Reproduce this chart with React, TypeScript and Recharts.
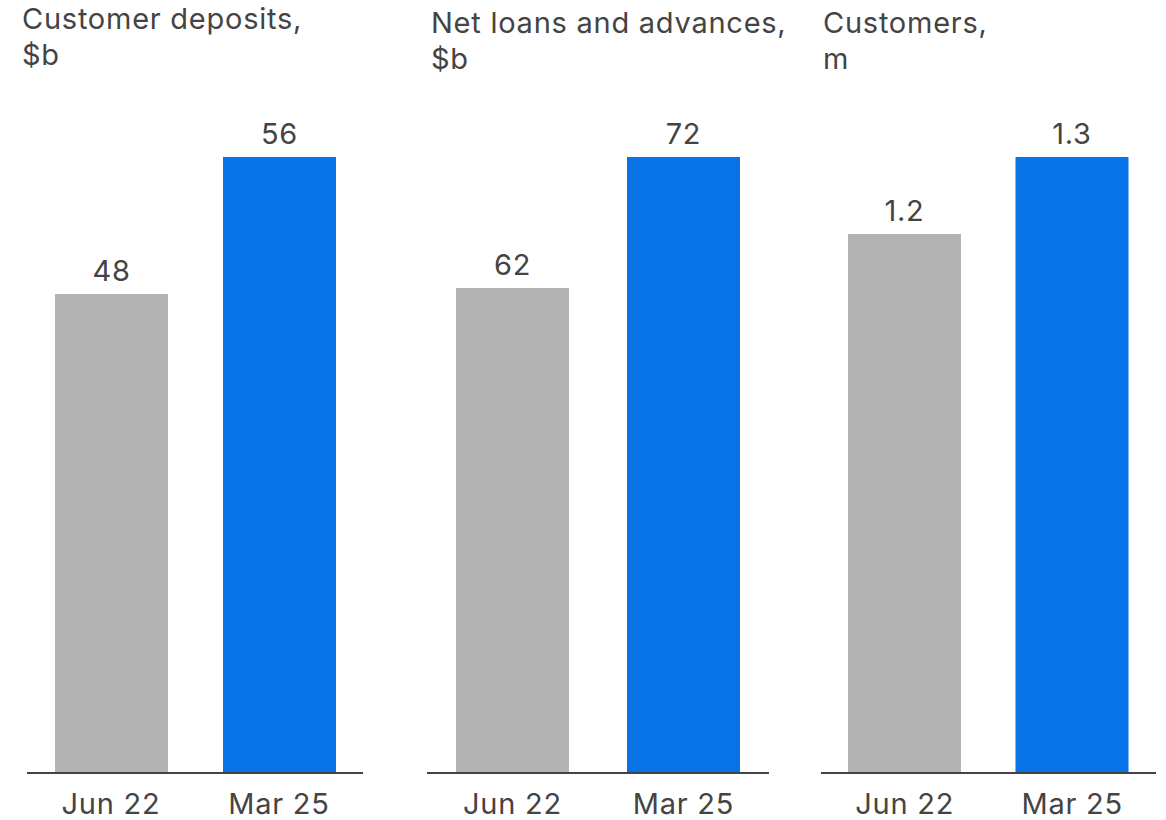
import { Bar, BarChart, Cell, LabelList, XAxis, YAxis } from "recharts";

const periods = ["Jun 22", "Mar 25"];
const depositValues = [48, 56];
const loanValues = [62, 72];
const customerValues = [1.2, 1.3];
const panelTitles = [
  ["Customer deposits,", "$b"],
  ["Net loans and advances,", "$b"],
  ["Customers,", "m"],
];
// bars are not drawn from zero in the source, so each panel has its own floor
const axisFloors = [20, 25, 0.5];

const TEXT = "#444444";
const FONT = "Inter, 'Noto Sans', sans-serif";
const SIZE = 29;
const SPACING = 0.75;
const PAD = 40;

interface PanelProps {
  title: string[];
  values: number[];
  floor: number;
  left: number;
  width: number;
  titleLeft: number;
  titleTop: number;
}

function Panel({ title, values, floor, left, width, titleLeft, titleTop }: PanelProps) {
  const data = periods.map((period, i) => ({ period, value: values[i] }));
  return (
    <>
      <div
        style={{
          position: "absolute",
          left: titleLeft,
          top: titleTop,
          fontFamily: FONT,
          fontSize: SIZE,
          letterSpacing: SPACING,
          lineHeight: "36px",
          color: TEXT,
          whiteSpace: "pre",
        }}
      >
        {title.join("\n")}
      </div>
      <div style={{ position: "absolute", left: left - PAD, top: 0 }}>
        <BarChart
          width={width + PAD * 2}
          height={820}
          data={data}
          margin={{ top: 157, right: PAD, bottom: 0, left: PAD }}
          barSize={113}
        >
          <XAxis
            dataKey="period"
            height={47}
            interval={0}
            axisLine={{ stroke: TEXT, strokeWidth: 2 }}
            tickLine={false}
            tickMargin={14}
            tick={{ fill: TEXT, fontSize: SIZE, fontFamily: FONT, letterSpacing: SPACING }}
          />
          <YAxis hide domain={[floor, Math.max(...values)]} />
          <Bar dataKey="value" isAnimationActive={false}>
            {data.map((d, i) => (
              <Cell key={d.period} fill={i === 0 ? "#b3b3b3" : "#0773e6"} />
            ))}
            <LabelList
              dataKey="value"
              position="top"
              offset={13}
              fill={TEXT}
              fontSize={SIZE}
              fontFamily={FONT}
              letterSpacing={SPACING}
            />
          </Bar>
        </BarChart>
      </div>
    </>
  );
}

export default function App() {
  return (
    <div
      style={{
        position: "absolute",
        left: 0,
        top: 0,
        width: 1166,
        height: 820,
        background: "#fff",
        overflow: "hidden",
      }}
    >
      <Panel title={panelTitles[0]} values={depositValues} floor={axisFloors[0]} left={27} width={336} titleLeft={22} titleTop={0.5} />
      <Panel title={panelTitles[1]} values={loanValues} floor={axisFloors[1]} left={427} width={342} titleLeft={431} titleTop={4.5} />
      <Panel title={panelTitles[2]} values={customerValues} floor={axisFloors[2]} left={821} width={335} titleLeft={823} titleTop={4.5} />
    </div>
  );
}
